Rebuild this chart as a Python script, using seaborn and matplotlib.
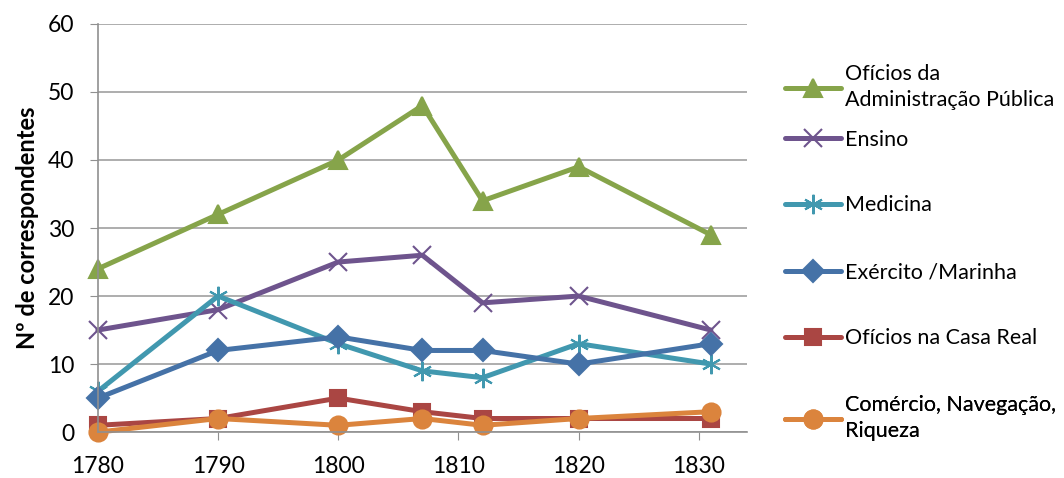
import pandas as pd
import numpy as np
import matplotlib
matplotlib.use("Agg")
import matplotlib.pyplot as plt
import seaborn as sns

sns.set_style("white")
plt.rcParams['font.family'] = ['Lato', 'DejaVu Sans']
plt.rcParams['text.color'] = 'black'
plt.rcParams['xtick.color'] = 'black'
plt.rcParams['ytick.color'] = 'black'
plt.rcParams['axes.labelcolor'] = 'black'

# anos (eixo x) e nº de correspondentes por categoria
anos = [1780, 1790, 1800, 1807, 1812, 1820, 1831]
admin_publica = [24, 32, 40, 48, 34, 39, 29]
ensino = [15, 18, 25, 26, 19, 20, 15]
medicina = [6, 20, 13, 9, 8, 13, 10]
exercito = [5, 12, 14, 12, 12, 10, 13]
casa_real = [1, 2, 5, 3, 2, 2, 2]
comercio = [0, 2, 1, 2, 1, 2, 3]

series = [
    ("Ofícios da\nAdministração Pública", admin_publica, "#86A44A", "^", 13),
    ("Ensino", ensino, "#6E548D", "x", 13),
    ("Medicina", medicina, "#4198AF", (6, 2, 0), 14),
    ("Exército /Marinha", exercito, "#4572A7", "D", 11),
    ("Ofícios na Casa Real", casa_real, "#AA4643", "s", 12),
    ("Comércio, Navegação,\nRiqueza", comercio, "#DB843D", "o", 13),
]
# posição vertical de cada entrada da legenda (fração do eixo)
leg_y = [0.845, 0.716, 0.556, 0.392, 0.230, 0.034]

fig = plt.figure(figsize=(10.64, 4.78), dpi=100)
ax = fig.add_axes([0.092, 0.096, 0.61, 0.854])

for nome, vals, cor, mk, ms in series:
    df = pd.DataFrame({"ano": anos, "n": vals})
    sns.lineplot(data=df, x="ano", y="n", ax=ax, color=cor, linewidth=3.6,
                 marker=mk, markersize=ms, markeredgecolor=cor,
                 markeredgewidth=1.5, label=nome, clip_on=False)

h, l = ax.get_legend_handles_labels()
ax.get_legend().remove()
for hi, li, yi in zip(h, l, leg_y):
    leg = ax.legend([hi], [li], loc="center left", bbox_to_anchor=(1.058, yi),
                    frameon=False, fontsize=15.5, handlelength=2.6,
                    handletextpad=0.2, borderpad=0, borderaxespad=0)
    for t in leg.get_texts():
        t.set_linespacing(1.35)
    ax.add_artist(leg)

ax.set_xlim(1780, 1834)
ax.set_ylim(0, 60)
ax.set_xticks([1780, 1790, 1800, 1810, 1820, 1830])
ax.set_yticks(range(0, 61, 10))
ax.yaxis.grid(True, color="#a0a0a0", linewidth=1.2)
ax.xaxis.grid(False)
for s in ["top", "right"]:
    ax.spines[s].set_visible(False)
for s in ["left", "bottom"]:
    ax.spines[s].set_color("#909090")
    ax.spines[s].set_linewidth(1.2)
ax.tick_params(axis="both", labelsize=16.5, length=6, color="#909090",
               labelcolor="black", direction="out", left=True, bottom=True)
ax.tick_params(axis="y", pad=11)
ax.tick_params(axis="x", pad=11)
ax.set_xlabel("")
ax.set_ylabel("Nº de correspondentes", fontsize=17, fontweight="bold")
ax.yaxis.set_label_coords(-0.09, 0.5)

fig.savefig("out.png", dpi=100)
